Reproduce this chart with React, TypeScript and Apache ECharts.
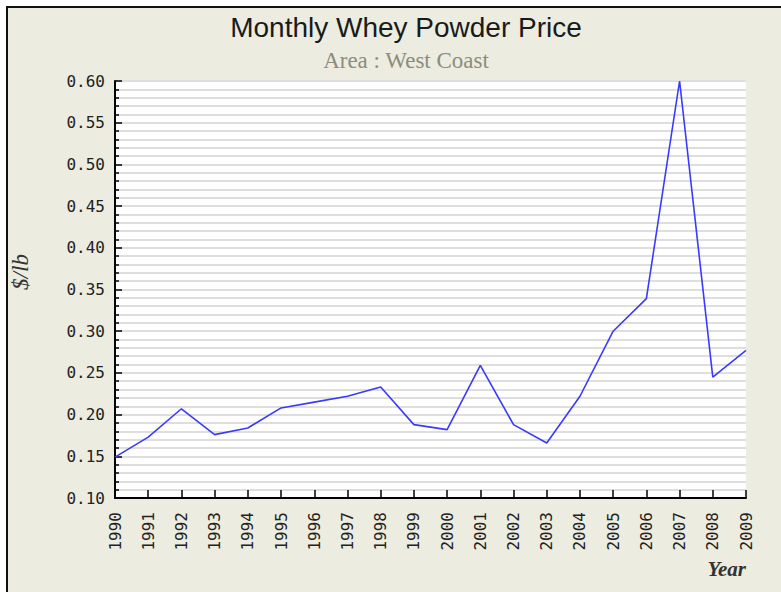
import React, { useEffect, useRef } from "react";
import * as echarts from "echarts";

const years = ["1990","1991","1992","1993","1994","1995","1996","1997","1998","1999","2000","2001","2002","2003","2004","2005","2006","2007","2008","2009"];
const prices = [0.149,0.173,0.207,0.176,0.184,0.208,0.215,0.222,0.233,0.188,0.182,0.259,0.188,0.166,0.222,0.300,0.339,0.600,0.245,0.277];
const yTicks = { min: 0.1, max: 0.6, interval: 0.05 };

export default function App() {
  const ref = useRef<HTMLDivElement>(null);
  useEffect(() => {
    if (!ref.current) return;
    const chart = echarts.init(ref.current, null, { renderer: "svg" });
    chart.setOption({
      animation: false,
      title: [
        {
          text: "Monthly Whey Powder Price",
          left: 401,
          top: 8,
          textAlign: "center",
          textStyle: { fontFamily: "Liberation Sans", fontSize: 28, fontWeight: "normal", color: "#1a1a1a" },
        },
        {
          text: "Area : West Coast",
          left: 401,
          top: 44,
          textAlign: "center",
          textStyle: { fontFamily: "Liberation Serif", fontSize: 23, fontWeight: "normal", color: "#8c8c7c" },
        },
      ],
      grid: { left: 115, right: 35, top: 81, bottom: 94, show: true, backgroundColor: "#ffffff", borderWidth: 0 },
      xAxis: {
        type: "category",
        data: years,
        boundaryGap: false,
        axisLine: { lineStyle: { color: "#000", width: 2 } },
        axisTick: { show: true, inside: true, length: 8, lineStyle: { color: "#000", width: 1.5 }, interval: 0 },
        axisLabel: { rotate: 90, margin: 14, interval: 0, fontFamily: "DejaVu Sans Mono", fontSize: 16, color: "#222" },
        splitLine: { show: false },
      },
      yAxis: {
        type: "value",
        min: yTicks.min,
        max: yTicks.max,
        interval: yTicks.interval,
        axisLine: { show: true, lineStyle: { color: "#000", width: 2 } },
        axisTick: { show: true, inside: true, length: 7, lineStyle: { color: "#000", width: 1.5 } },
        minorTick: { show: true, splitNumber: 5, length: 4, lineStyle: { color: "#000", width: 1.5 } },
        axisLabel: { margin: 10, fontFamily: "DejaVu Sans Mono", fontSize: 16, color: "#222", formatter: (v: number) => v.toFixed(2) },
        splitLine: { show: true, lineStyle: { color: "#dedede", width: 2 } },
        minorSplitLine: { show: true, lineStyle: { color: "#dedede", width: 2 } },
      },
      graphic: [
        {
          type: "text",
          x: 20,
          y: 272,
          rotation: Math.PI / 2,
          style: { text: "$/lb", fontFamily: "Liberation Serif", fontStyle: "italic", fontSize: 23, fill: "#333", align: "center", verticalAlign: "middle" },
        },
        {
          type: "text",
          x: 746,
          y: 569,
          style: { text: "Year", fontFamily: "Liberation Serif", fontStyle: "italic", fontWeight: "bold", fontSize: 21, fill: "#333", align: "right", verticalAlign: "middle" },
        },
      ],
      series: [
        {
          type: "line",
          data: prices,
          symbol: "none",
          lineStyle: { color: "#3a3aff", width: 1.6 },
        },
      ],
    });
    return () => chart.dispose();
  }, []);
  return (
    <div style={{ position: "fixed", left: 0, top: 0, width: 781, height: 592, background: "#ffffff", overflow: "hidden" }}>
      <div style={{ position: "absolute", left: 6, top: 6, width: 800, height: 600, background: "#ecece0", borderTop: "2px solid #111", borderLeft: "2px solid #111" }} />
      <div ref={ref} style={{ position: "absolute", left: 0, top: 0, width: 781, height: 592 }} />
    </div>
  );
}
